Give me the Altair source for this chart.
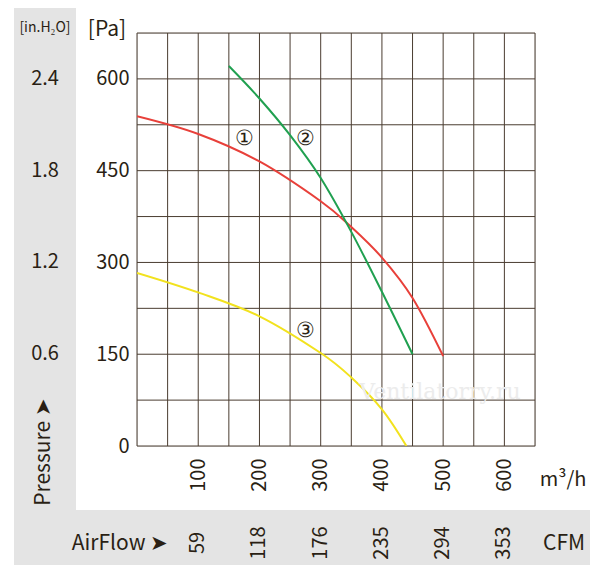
import altair as alt
import pandas as pd

# curve values (m3/h, Pa)
flow_1 = [0, 100, 200, 300, 350, 400, 450, 500]
pa_1 = [539, 510, 465, 400, 358, 308, 242, 147]
flow_2 = [150, 200, 250, 300, 350, 400, 450]
pa_2 = [621, 568, 508, 438, 350, 252, 150]
flow_3 = [0, 100, 200, 300, 350, 400, 440]
pa_3 = [283, 251, 212, 152, 112, 60, 0]

pa_ticks = [0, 150, 300, 450, 600]
inh2o_ticks = [150, 300, 450, 600]
inh2o_labels = ["0.6", "1.2", "1.8", "2.4"]
flow_ticks = [100, 200, 300, 400, 500, 600]
cfm_labels = ["59", "118", "176", "235", "294", "353"]

curve_labels = ["①", "②", "③"]
label_flow = [175, 275, 275]
label_pa = [502, 502, 188]

W, H = 398, 413
FONT = "Noto Sans CJK SC"
INK = "#2a1f14"
GRID = "#4a3c30"

rows = []
for name, fx, py in [("1", flow_1, pa_1), ("2", flow_2, pa_2), ("3", flow_3, pa_3)]:
    for f, p in zip(fx, py):
        rows.append({"curve": name, "flow": f, "pa": p})
curves = pd.DataFrame(rows)

xs = alt.Scale(domain=[0, 650], nice=False)
ys = alt.Scale(domain=[0, 675], nice=False)

# gray decorative bands
band_left = alt.Chart(pd.DataFrame({"a": [0]})).mark_rect(color="#e4e4e4").encode(
    x=alt.value(14 - 137), x2=alt.value(76 - 137), y=alt.value(8 - 33), y2=alt.value(572 - 33))
band_bottom = alt.Chart(pd.DataFrame({"a": [0]})).mark_rect(color="#e4e4e4").encode(
    x=alt.value(14 - 137), x2=alt.value(590 - 137), y=alt.value(510 - 33), y2=alt.value(572 - 33))

grid_v = alt.Chart(pd.DataFrame({"v": list(range(0, 651, 50))})).mark_rule(color=GRID, strokeWidth=1).encode(
    x=alt.X("v:Q", scale=xs))
grid_h = alt.Chart(pd.DataFrame({"v": list(range(0, 676, 75))})).mark_rule(color=GRID, strokeWidth=1).encode(
    y=alt.Y("v:Q", scale=ys))

lines = alt.Chart(curves).mark_line(strokeWidth=2, interpolate="cardinal", clip=True).encode(
    x=alt.X("flow:Q", scale=xs, axis=alt.Axis(values=flow_ticks, labelAngle=270, labelAlign="right",
                                             labelBaseline="middle", labelPadding=12, ticks=False,
                                             domain=False, grid=False, labelFontSize=20,
                                             labelColor=INK, labelFont=FONT), title=None),
    y=alt.Y("pa:Q", scale=ys, axis=alt.Axis(values=pa_ticks, ticks=False, domain=False, grid=False,
                                           labelFontSize=20, labelColor=INK, labelFont=FONT,
                                           labelPadding=8), title=None),
    color=alt.Color("curve:N", scale=alt.Scale(domain=["1", "2", "3"],
                                               range=["#e8403a", "#20a050", "#f2e21e"]), legend=None),
    detail="curve:N",
)

marks = alt.Chart(pd.DataFrame({"t": curve_labels, "f": label_flow, "p": label_pa})).mark_text(
    fontSize=21, color=INK, font="DejaVu Serif").encode(
    x=alt.X("f:Q", scale=xs), y=alt.Y("p:Q", scale=ys), text="t:N")

inh2o = alt.Chart(pd.DataFrame({"t": inh2o_labels, "p": inh2o_ticks})).mark_text(
    fontSize=20, color=INK, font=FONT).encode(
    x=alt.value(45 - 137), y=alt.Y("p:Q", scale=ys), text="t:N")

cfm = alt.Chart(pd.DataFrame({"t": cfm_labels, "f": flow_ticks})).mark_text(
    fontSize=20, color=INK, font=FONT, angle=270).encode(
    x=alt.X("f:Q", scale=xs), y=alt.value(543 - 33), text="t:N")

def label(txt, x, y, size=20, angle=0, font=FONT, color=INK, align="center"):
    return alt.Chart(pd.DataFrame({"t": [txt]})).mark_text(
        fontSize=size, color=color, font=font, angle=angle, align=align).encode(
        x=alt.value(x - 137), y=alt.value(y - 33), text="t:N")

extras = [
    label("[in.H₂O]", 45, 28, size=14),
    label("[Pa]", 107, 30, size=21),
    label("Pressure ➤", 44, 452, size=21, angle=270),
    label("AirFlow ➤", 120, 544, size=21),
    label("CFM", 564, 544, size=21),
    label("m³/h", 563, 480, size=20),
    label("Ventilatorry.ru", 440, 392, size=22, font="DejaVu Serif", color="#ececec"),
]

chart = alt.layer(band_left, band_bottom, grid_v, grid_h, lines, marks, inh2o, cfm, *extras).properties(
    width=W, height=H,
    autosize=alt.AutoSizeParams(type="none"),
    padding={"left": 129, "top": 25, "right": 57, "bottom": 119},
).configure_view(stroke=None).configure(background="white")

chart.save("out.html", embed_options={"renderer": "svg", "actions": False})
